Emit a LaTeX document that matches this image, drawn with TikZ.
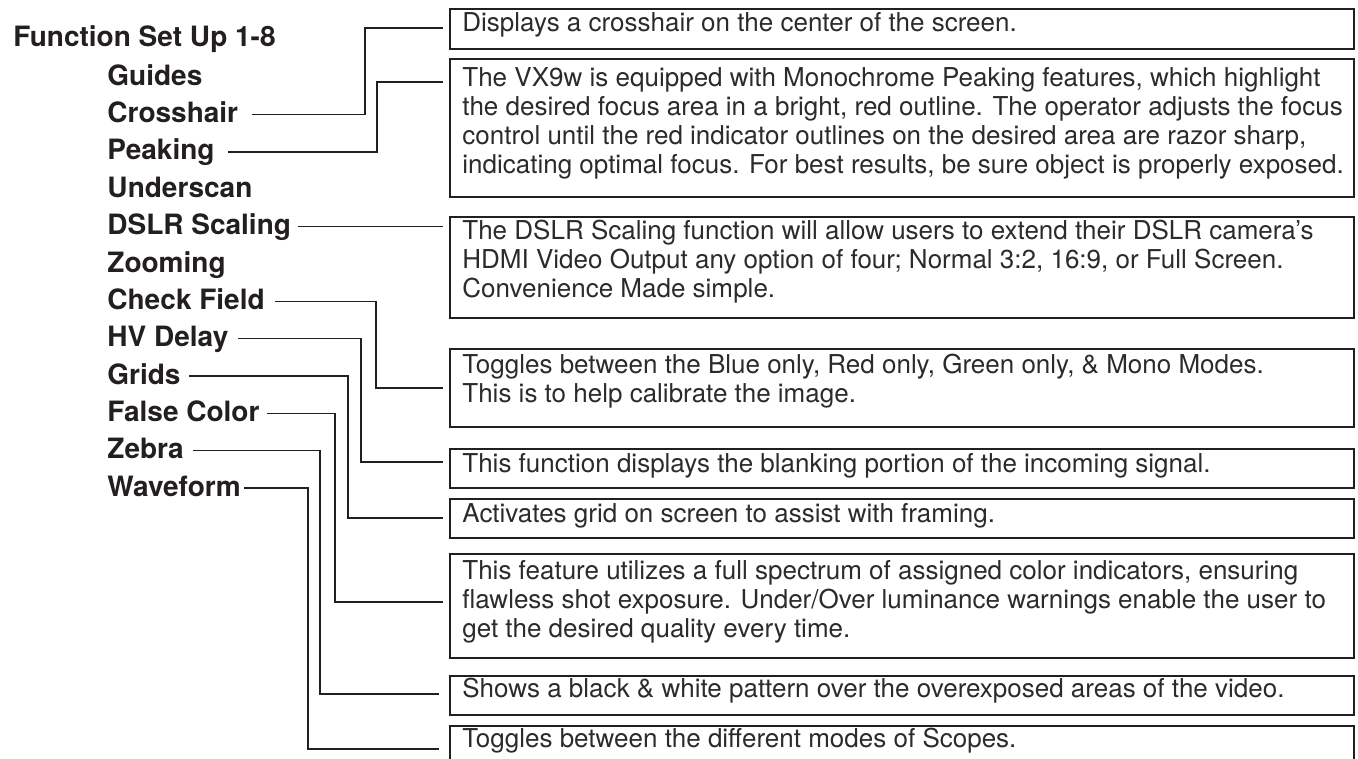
\documentclass[tikz,border=0pt]{standalone}
\usepackage{fontspec}
\setmainfont{TeX Gyre Heros}
\usetikzlibrary{calc}
\definecolor{ink}{HTML}{231F20}
\definecolor{bodyink}{HTML}{2B2B2B}
\begin{document}
\begin{tikzpicture}[x=0.5pt,y=-0.5pt,
  lbl/.style={font=\fontsize{14}{16}\selectfont\bfseries, anchor=base west, inner sep=0pt, text height=8pt, text depth=0pt, text=ink},
  boxn/.style={draw=ink, line width=0.85pt, anchor=north west, inner sep=0pt, minimum width=452pt},
  desc/.style={font=\fontsize{13}{14.5}\selectfont, anchor=base west, inner sep=0pt, align=left, text=bodyink},
  wire/.style={draw=ink, line width=0.75pt}]
\useasboundingbox (0,0) rectangle (1358,759);
\clip (0,0) rectangle (1358,759);

% labels
\node[lbl] (l0) at (13,47) {Function Set Up 1-8};
\node[lbl] (l1) at (107,85.3) {Guides};
\node[lbl] (l2) at (107,122.7) {Crosshair};
\node[lbl] (l3) at (107,160) {Peaking};
\node[lbl] (l4) at (107,197.3) {Underscan};
\node[lbl] (l5) at (107,234.7) {DSLR Scaling};
\node[lbl] (l6) at (107,272) {Zooming};
\node[lbl] (l7) at (107,309.3) {Check Field};
\node[lbl] (l8) at (107,346.7) {HV Delay};
\node[lbl] (l9) at (107,384) {Grids};
\node[lbl] (l10) at (107,421.3) {False Color};
\node[lbl] (l11) at (107,458.7) {Zebra};
\node[lbl] (l12) at (107,496) {Waveform};

% boxes
\node[boxn, minimum height=20pt] (b1) at (449,8) {};
\node[boxn, minimum height=69pt] (b2) at (449,58) {};
\node[boxn, minimum height=50.5pt] (b3) at (449,216) {};
\node[boxn, minimum height=39pt] (b4) at (449,348) {};
\node[boxn, minimum height=19.5pt] (b5) at (449,448) {};
\node[boxn, minimum height=19.5pt] (b6) at (449,498) {};
\node[boxn, minimum height=52pt] (b7) at (449,553) {};
\node[boxn, minimum height=19.5pt] (b8) at (449,675) {};
\node[boxn, minimum height=25pt] (b9) at (449,725) {};

% texts (base anchor = baseline of last line)
\node[desc] (t1) at (462,32) {Displays a crosshair on the center of the screen.};
\node[desc] (t2) at (462,174) {The VX9w is equipped with Monochrome Peaking features, which highlight\\the desired focus area in a bright, red outline. The operator adjusts the focus\\control until the red indicator outlines on the desired area are razor sharp,\\indicating optimal focus. For best results, be sure object is properly exposed.};
\node[desc] (t3) at (462,297) {The DSLR Scaling function will allow users to extend their DSLR camera’s\\HDMI Video Output any option of four; Normal 3:2, 16:9, or Full Screen.\\Convenience Made simple.};
\node[desc] (t4) at (462,402) {Toggles between the Blue only, Red only, Green only, \& Mono Modes.\\This is to help calibrate the image.};
\node[desc] (t5) at (462,472) {This function displays the blanking portion of the incoming signal.};
\node[desc] (t6) at (462,522) {Activates grid on screen to assist with framing.};
\node[desc] (t7) at (462,637) {This feature utilizes a full spectrum of assigned color indicators, ensuring\\flawless shot exposure. Under/Over luminance warnings enable the user to\\get the desired quality every time.};
\node[desc] (t8) at (462,697) {Shows a black \& white pattern over the overexposed areas of the video.};
\node[desc] (t9) at (462,747) {Toggles between the different modes of Scopes.};

% connectors
\draw[wire] ([xshift=6.5pt]l2.east) -| (365,28) -- ($(b1.west|-0,28)+(-6,0)$);
\draw[wire] ([xshift=6.5pt]l3.east) -| (377,82) -- ($(b2.west|-0,82)+(-6,0)$);
\draw[wire] ([xshift=3.5pt]l5.east) -- ($(b3.west|-l5.east)+(-6,0)$);
\draw[wire] ([xshift=5pt]l7.east) -| (376,388) -- ($(b4.west|-0,388)+(-6,0)$);
\draw[wire] ([xshift=4.5pt]l8.east) -| (361,462) -- ($(b5.west|-0,462)+(-6,0)$);
\draw[wire] ([xshift=4pt]l9.east) -| (348,518) -- ($(b6.west|-0,518)+(-6,0)$);
\draw[wire] ([xshift=3.5pt]l10.east) -| (335,602) -- ($(b7.west|-0,602)+(-6,0)$);
\draw[wire] ([xshift=4.5pt]l11.east) -| (320,694) -- ($(b8.west|-0,694)+(-10,0)$);
\draw[wire] ([xshift=1.5pt]l12.east) -| (308,749) -- ($(b9.west|-0,749)+(-10,0)$);
\end{tikzpicture}
\end{document}
